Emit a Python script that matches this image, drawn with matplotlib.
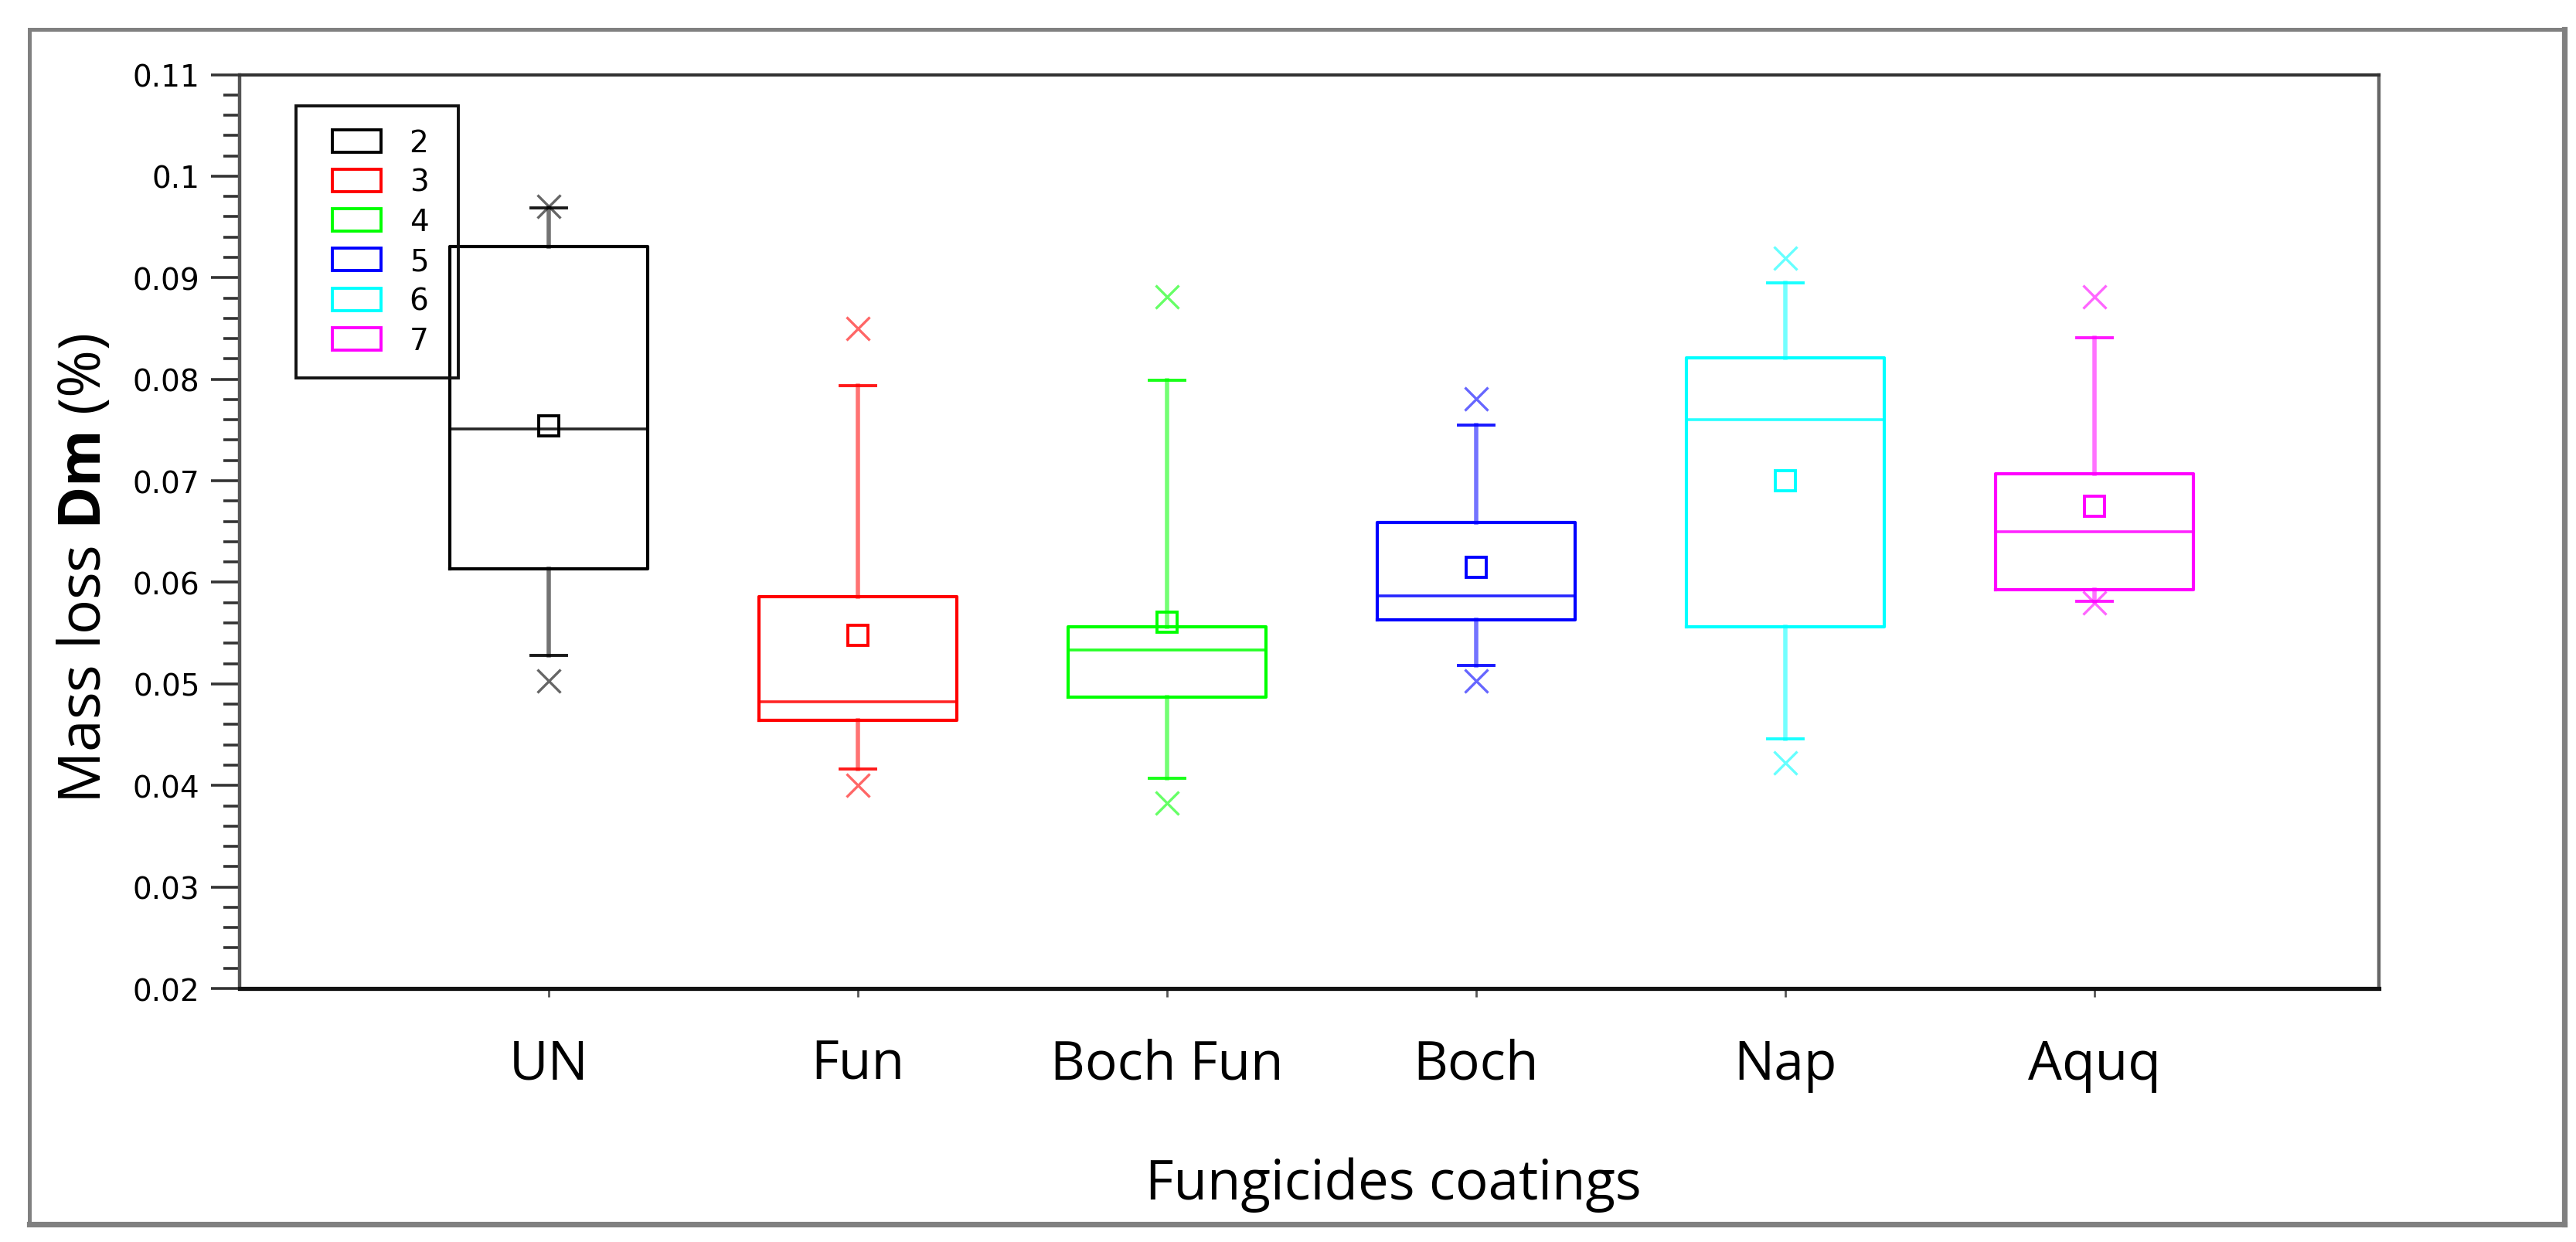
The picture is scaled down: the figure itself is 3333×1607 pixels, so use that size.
import matplotlib
matplotlib.use("Agg")
import matplotlib.pyplot as plt
from matplotlib.patches import Patch, Rectangle
from matplotlib.legend_handler import HandlerPatch
from matplotlib.ticker import MultipleLocator, FuncFormatter

# ---------------- data ----------------
categories = ["UN", "Fun", "Boch Fun", "Boch", "Nap", "Aquq"]
legend_labels = ["2", "3", "4", "5", "6", "7"]
positions = [2, 3, 4, 5, 6, 7]
q1 = [0.0613, 0.0464, 0.0487, 0.0563, 0.0556, 0.0593]
medians = [0.0751, 0.0482, 0.0533, 0.0587, 0.0760, 0.0650]
q3 = [0.0931, 0.0586, 0.0556, 0.0659, 0.0821, 0.0707]
whisker_low = [0.0528, 0.0416, 0.0407, 0.0518, 0.0446, 0.0581]
whisker_high = [0.0969, 0.0794, 0.0799, 0.0755, 0.0895, 0.0841]
means = [0.0754, 0.0548, 0.0561, 0.0615, 0.0700, 0.0675]
minimums = [0.0503, 0.0400, 0.0383, 0.0503, 0.0422, 0.0580]
maximums = [0.0970, 0.0850, 0.0881, 0.0781, 0.0919, 0.0881]
colors = ["#000000", "#FF0000", "#00FF00", "#0000FF", "#00FFFF", "#FF00FF"]
yticks_major = [0.02, 0.03, 0.04, 0.05, 0.06, 0.07, 0.08, 0.09, 0.10, 0.11]

plt.rcParams["mathtext.fontset"] = "custom"
plt.rcParams["mathtext.rm"] = "Open Sans"
plt.rcParams["mathtext.bf"] = "Open Sans:bold"

W, H, DPI = 3333, 1608, 200
fig = plt.figure(figsize=(W / DPI, H / DPI), dpi=DPI)
fig.patch.set_facecolor("white")

# outer gray frame (with slightly heavier right/bottom edge)
FL, FT, FR, FB = 38, 39, 3318, 1585
fig.patches.append(Rectangle((FL / W, 1 - FB / H), (FR - FL) / W, (FB - FT) / H,
                             transform=fig.transFigure, fill=False,
                             edgecolor="#808080", linewidth=1.8, zorder=0))
fig.add_artist(plt.Line2D([FR / W, FR / W], [1 - FB / H, 1 - FT / H],
                          transform=fig.transFigure, color="#808080", linewidth=2.6))
fig.add_artist(plt.Line2D([FL / W, FR / W], [1 - FB / H, 1 - FB / H],
                          transform=fig.transFigure, color="#808080", linewidth=2.6))

AX_L, AX_R, AX_T, AX_B = 310, 3078, 97.5, 1280
ax = fig.add_axes([AX_L / W, 1 - AX_B / H, (AX_R - AX_L) / W, (AX_B - AX_T) / H])

for i, c in enumerate(colors):
    stats = [{
        "med": medians[i], "q1": q1[i], "q3": q3[i],
        "whislo": whisker_low[i], "whishi": whisker_high[i],
        "mean": means[i], "fliers": [minimums[i], maximums[i]],
    }]
    ax.bxp(stats, positions=[positions[i]], widths=0.64, capwidths=0.117,
           showmeans=True, manage_ticks=False,
           boxprops=dict(color=c, linewidth=1.5),
           medianprops=dict(color=c, linewidth=1.3, alpha=0.85),
           whiskerprops=dict(color=c, linewidth=2.0, alpha=0.55),
           capprops=dict(color=c, linewidth=1.4, alpha=0.9),
           meanprops=dict(marker="s", markersize=9.5, markerfacecolor="none",
                          markeredgecolor=c, markeredgewidth=1.4),
           flierprops=dict(marker="x", markersize=11, markeredgecolor=c,
                           markeredgewidth=1.2, alpha=0.6, linestyle="none"))

ax.set_xlim(1, 7.92)
ax.set_ylim(0.02, 0.11)
ax.set_xticks(positions)
ax.set_xticklabels(categories, fontfamily="Open Sans", fontsize=25)
ax.set_yticks(yticks_major)
ax.yaxis.set_minor_locator(MultipleLocator(0.002))
ax.yaxis.set_major_formatter(FuncFormatter(lambda v, p: "%g" % round(v, 4)))
ax.tick_params(axis="y", which="major", direction="out", length=13.5, width=1.3,
               color="#333333", labelsize=14, pad=5)
ax.tick_params(axis="y", which="minor", direction="out", length=7.5, width=1.3,
               color="#333333")
ax.tick_params(axis="x", which="major", direction="out", length=4, width=1.0,
               color="#555555", pad=19)
ax.tick_params(axis="x", which="minor", bottom=False)
for lbl in ax.get_yticklabels():
    lbl.set_fontfamily("DejaVu Sans")

ax.spines["left"].set_color("#555555")
ax.spines["left"].set_linewidth(1.6)
ax.spines["top"].set_color("#333333")
ax.spines["top"].set_linewidth(1.5)
ax.spines["right"].set_color("#666666")
ax.spines["right"].set_linewidth(1.6)
ax.spines["bottom"].set_color("#111111")
ax.spines["bottom"].set_linewidth(1.9)


def make_patch(legend, orig_handle, xdescent, ydescent, width, height, fontsize):
    pad = 0.46 * fontsize
    return Rectangle((-xdescent + pad, -ydescent), width - pad, height)


axw = AX_R - AX_L
axh = AX_B - AX_T
leg_x = (383 - AX_L) / axw
leg_top = 1 - (138 - AX_T) / axh
leg_w = (593 - 383) / axw
handles = [Patch(facecolor="white", edgecolor=c, linewidth=1.4) for c in colors]
leg = ax.legend(handles, legend_labels, loc="upper left", mode="expand",
                bbox_to_anchor=(leg_x, leg_top - 0.3, leg_w, 0.3),
                borderaxespad=0, fontsize=14, handlelength=2.08, handleheight=0.77,
                handletextpad=0.95, labelspacing=0.34, borderpad=0.74,
                fancybox=False, framealpha=1,
                handler_map={Patch: HandlerPatch(patch_func=make_patch)})
leg.get_frame().set_facecolor("none")
leg.get_frame().set_edgecolor("#111111")
leg.get_frame().set_linewidth(1.4)
for t in leg.get_texts():
    t.set_fontfamily("DejaVu Sans")

fig.text(1803 / W, 1 - 1552 / H, "Fungicides coatings", fontfamily="Open Sans",
         fontsize=25.5, ha="center", va="baseline")
fig.text(130 / W, 1 - 735 / H, r"Mass loss $\mathbf{Dm}$ (%)", fontfamily="Open Sans",
         fontsize=27, rotation=90, rotation_mode="anchor", ha="center", va="baseline")

fig.savefig("out.png", dpi=DPI, facecolor="white")
